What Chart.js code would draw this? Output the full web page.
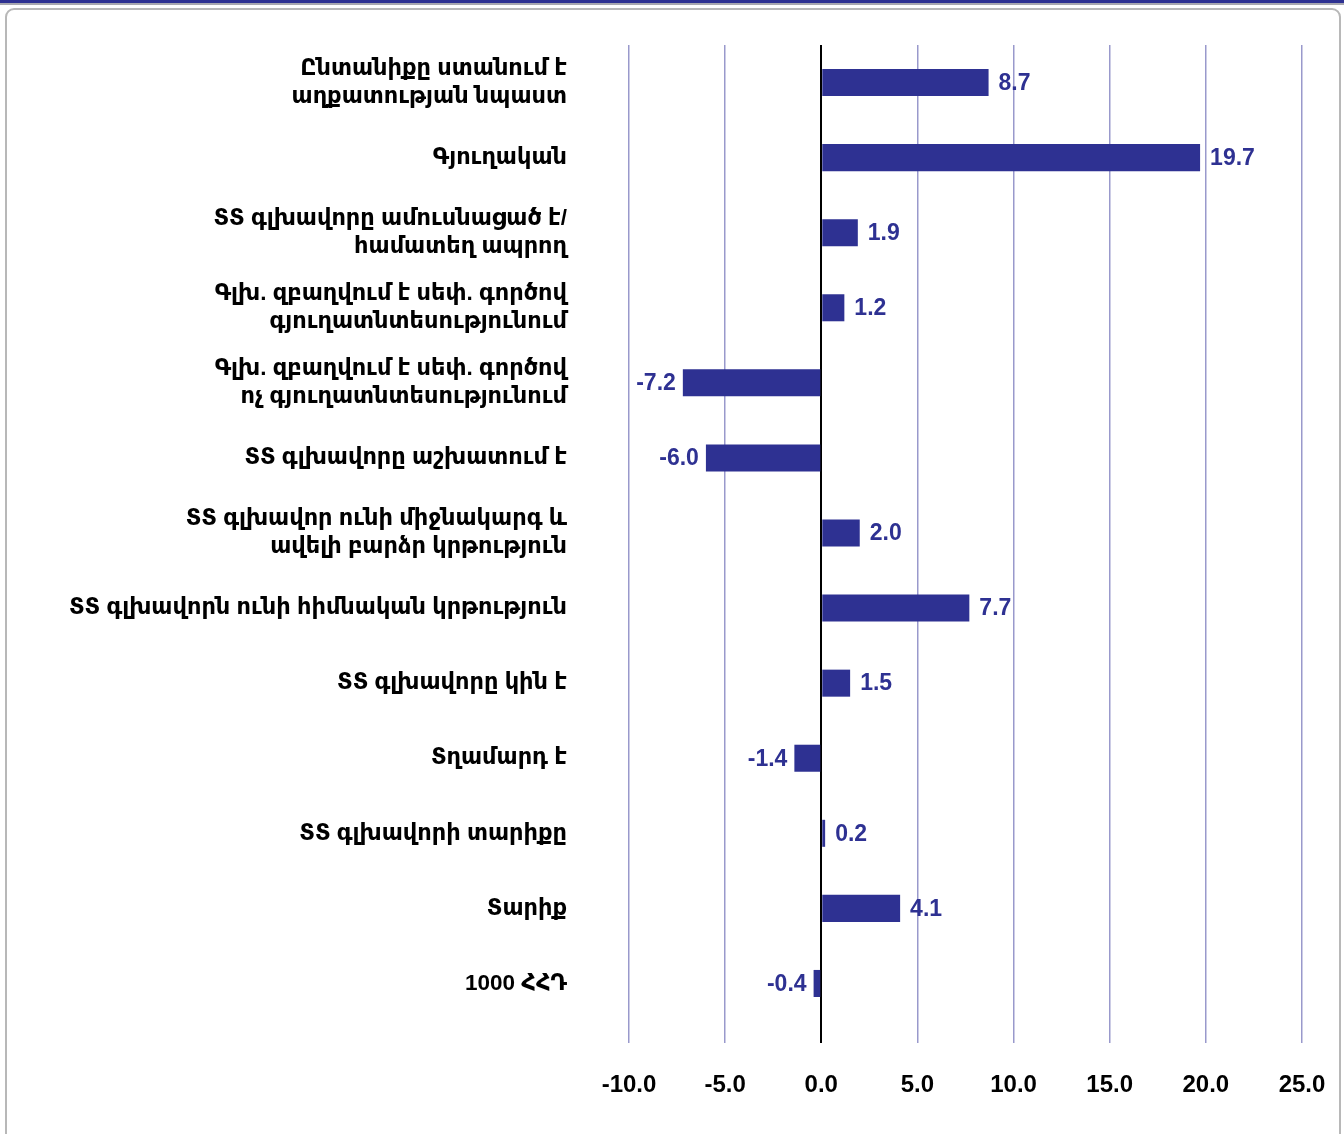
<!DOCTYPE html>
<html>
<head>
<meta charset="utf-8">
<script src="https://cdn.jsdelivr.net/npm/chart.js@4.4.0/dist/chart.umd.min.js"></script>
<style>
  html, body { margin: 0; padding: 0; background: #fff; }
  body { width: 1344px; height: 1134px; position: relative; overflow: hidden; }
  .topband { position: absolute; left: 0; top: 0; width: 1344px; height: 3px; background: #2e3192; border-bottom: 2px solid #a8a8b0; }
  .box { position: absolute; left: 5px; top: 8px; width: 1332px; height: 1140px; border: 2px solid #b8b8b8; border-radius: 9px; }
  #chartCanvas { position: absolute; left: 0; top: 0; }
</style>
</head>
<body>
<div class="topband"></div>
<div class="box"></div>
<canvas id="chartCanvas" width="1344" height="1134"></canvas>
<script>
const categories = [
  ['Ընտանիքը ստանում է', 'աղքատության նպաստ'],
  'Գյուղական',
  ['ՏՏ գլխավորը ամուսնացած է/', 'համատեղ ապրող'],
  ['Գլխ. զբաղվում է սեփ. գործով', 'գյուղատնտեսությունում'],
  ['Գլխ. զբաղվում է սեփ. գործով', 'ոչ գյուղատնտեսությունում'],
  'ՏՏ գլխավորը աշխատում է',
  ['ՏՏ գլխավոր ունի միջնակարգ և', 'ավելի բարձր կրթություն'],
  'ՏՏ գլխավորն ունի հիմնական կրթություն',
  'ՏՏ գլխավորը կին է',
  'Տղամարդ է',
  'ՏՏ գլխավորի տարիքը',
  'Տարիք',
  '1000 ՀՀԴ'
];
const values = [8.7, 19.7, 1.9, 1.2, -7.2, -6.0, 2.0, 7.7, 1.5, -1.4, 0.2, 4.1, -0.4];
const xMin = -10;
const xMax = 25;
const xStep = 5;

const barColor = '#2e3192';
const gridColor = '#9999cc';
const font = "'Liberation Sans', Arial, 'DejaVu Sans', sans-serif";

const valueLabels = {
  id: 'valueLabels',
  afterDatasetsDraw(chart) {
    const c = chart.ctx;
    const meta = chart.getDatasetMeta(0);
    c.save();
    c.font = 'bold 23px ' + font;
    c.fillStyle = barColor;
    c.textBaseline = 'middle';
    meta.data.forEach((bar, i) => {
      const v = values[i];
      const txt = v.toFixed(1);
      if (v >= 0) {
        c.textAlign = 'left';
        c.fillText(txt, bar.x + 10, bar.y + 1);
      } else {
        c.textAlign = 'right';
        c.fillText(txt, bar.x - 7, bar.y + 1);
      }
    });
    c.restore();
  }
};

const ctx = document.getElementById('chartCanvas').getContext('2d');
new Chart(ctx, {
  type: 'bar',
  data: {
    labels: categories,
    datasets: [{
      data: values,
      backgroundColor: barColor,
      borderWidth: 0,
      categoryPercentage: 1,
      barPercentage: 0.36
    }]
  },
  options: {
    indexAxis: 'y',
    responsive: false,
    animation: false,
    devicePixelRatio: 1,
    layout: { padding: { left: 0, right: 42, top: 45, bottom: 0 } },
    plugins: {
      legend: { display: false },
      tooltip: { enabled: false }
    },
    scales: {
      x: {
        min: xMin,
        max: xMax,
        afterFit: s => { s.height = 1134 - 1021; s.paddingLeft = 0; s.paddingRight = 0; },
        ticks: {
          stepSize: xStep,
          padding: 28,
          color: '#000',
          font: { family: font, size: 24, weight: 'bold' },
          callback: v => Number(v).toFixed(1)
        },
        grid: {
          drawTicks: true,
          tickLength: 22,
          lineWidth: c => c.tick && c.tick.value === 0 ? 2 : 1.5,
          color: c => c.tick && c.tick.value === 0 ? '#000' : gridColor,
          tickColor: c => c.tick && c.tick.value === 0 ? '#000' : gridColor
        },
        border: { display: false }
      },
      y: {
        afterFit: s => { s.width = 629; s.paddingTop = 0; s.paddingBottom = 0; },
        ticks: {
          padding: 62,
          color: '#000',
          font: { family: font, size: 22.5, weight: 'bold', lineHeight: 1.25 }
        },
        grid: { display: false, drawTicks: false },
        border: { display: false }
      }
    }
  },
  plugins: [valueLabels]
});
</script>
</body>
</html>
